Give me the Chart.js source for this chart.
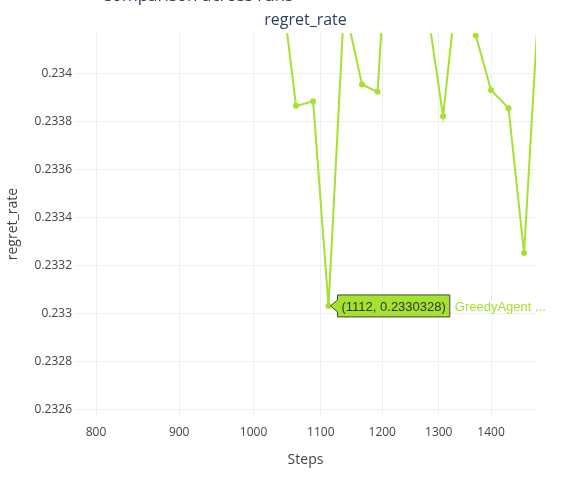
<!DOCTYPE html>
<html>
<head>
<meta charset="utf-8">
<script src="https://cdn.jsdelivr.net/npm/chart.js@4"></script>
<style>
  body { margin: 0; background: #fff; overflow: hidden; }
  #wrap { position: relative; width: 581px; height: 481px; }
  #topTitle {
    position: absolute; left: 101px; top: -15px;
    font: 17px "Open Sans", verdana, arial, sans-serif; line-height: 20px;
    color: #2a3f5f; white-space: nowrap;
  }
</style>
</head>
<body>
<div id="wrap">
  <canvas id="js-regretChart" width="581" height="481"></canvas>
  <div id="topTitle">Comparison across runs</div>
</div>
<script>
const steps = [787, 812, 838, 863, 888, 913, 938, 963, 988, 1012, 1037, 1062, 1088, 1112, 1137, 1166, 1192, 1220, 1249, 1279, 1308, 1338, 1370, 1400, 1435, 1467, 1500];
const regretRate = [0.2402, 0.2388, 0.2379, 0.2371, 0.2366, 0.2359, 0.2355, 0.2351, 0.2348, 0.2347, 0.23444, 0.2338653, 0.2338848, 0.2330328, 0.2342911, 0.2339543, 0.2339235, 0.2350146, 0.2347, 0.2342711, 0.2338224, 0.23444, 0.234158, 0.2339306, 0.2338557, 0.2332528, 0.234375];
const xTicks = [800, 900, 1000, 1100, 1200, 1300, 1400];
const yTicks = [0.2326, 0.2328, 0.233, 0.2332, 0.2334, 0.2336, 0.2338, 0.234];
const yTickLabels = ["0.2326", "0.2328", "0.233", "0.2332", "0.2334", "0.2336", "0.2338", "0.234"];
const hoverIndex = 13;
const runName = "GreedyAgent ...";

const lineColor = "#a5e12f";
const gridColor = "#ebf0f8";
const textColor = "#2a3f5f";
const axisColor = "#444";
const fontFamily = "'Open Sans', verdana, arial, sans-serif";

var points = [];
for (var i = 0; i < steps.length; i++) {
    points.push({x: steps[i], y: regretRate[i]});
}

const hoverLabel = {
    id: "hoverLabel",
    afterDatasetsDraw(chart) {
        const ctx = chart.ctx;
        const px = chart.scales.x.getPixelForValue(steps[hoverIndex]);
        const py = chart.scales.y.getPixelForValue(regretRate[hoverIndex]);
        const text = "(" + steps[hoverIndex] + ", " + regretRate[hoverIndex] + ")";
        ctx.save();
        ctx.font = "13px Arial, 'Liberation Sans', sans-serif";
        const w = ctx.measureText(text).width + 8;
        const tip = px + 2;
        const left = tip + 7;
        const top = py - 11;
        const bottom = py + 11;
        ctx.beginPath();
        ctx.moveTo(tip, py);
        ctx.lineTo(left, py - 6);
        ctx.lineTo(left, top);
        ctx.lineTo(left + w, top);
        ctx.lineTo(left + w, bottom);
        ctx.lineTo(left, bottom);
        ctx.lineTo(left, py + 6);
        ctx.closePath();
        ctx.fillStyle = lineColor;
        ctx.fill();
        ctx.lineWidth = 1;
        ctx.strokeStyle = "#444";
        ctx.stroke();
        ctx.fillStyle = "#333";
        ctx.textBaseline = "middle";
        ctx.fillText(text, left + 4, py + 1);
        ctx.fillStyle = lineColor;
        ctx.fillText(runName, left + w + 5, py + 1);
        ctx.restore();
    }
};

const ctx = document.getElementById("js-regretChart");
const regretChart = new Chart(ctx, {
    type: "line",
    data: {
        datasets: [{
            label: runName,
            data: points,
            borderColor: lineColor,
            backgroundColor: lineColor,
            borderWidth: 2,
            pointRadius: 3,
            pointBorderWidth: 0,
            pointBackgroundColor: lineColor,
            tension: 0
        }]
    },
    options: {
        responsive: false,
        animation: false,
        events: [],
        layout: {
            padding: {left: 0, right: 45, top: 0, bottom: 0}
        },
        plugins: {
            legend: {display: false},
            tooltip: {enabled: false},
            title: {
                display: true,
                text: "regret_rate",
                fullSize: false,
                color: textColor,
                font: {family: fontFamily, size: 16, weight: "normal"},
                padding: {top: 11, bottom: 3}
            }
        },
        scales: {
            x: {
                type: "logarithmic",
                min: 776.5,
                max: 1492,
                afterBuildTicks: (scale) => {
                    scale.ticks = xTicks.map((v) => ({value: v}));
                },
                afterFit: (scale) => {
                    scale.height = 66;
                },
                grid: {color: gridColor, drawTicks: false},
                border: {display: false},
                ticks: {
                    color: axisColor,
                    font: {family: fontFamily, size: 12},
                    padding: 10,
                    autoSkip: false,
                    maxRotation: 0,
                    callback: function(value) {
                        return String(value);
                    }
                },
                title: {
                    display: true,
                    text: "Steps",
                    color: axisColor,
                    font: {family: fontFamily, size: 14},
                    padding: {top: 0, bottom: 13}
                }
            },
            y: {
                type: "linear",
                min: 0.232579,
                max: 0.2341676,
                afterBuildTicks: (scale) => {
                    scale.ticks = yTicks.map((v) => ({value: v}));
                },
                afterFit: (scale) => {
                    scale.width = 75;
                },
                grid: {color: gridColor, drawTicks: false},
                border: {display: false},
                ticks: {
                    color: axisColor,
                    font: {family: fontFamily, size: 12},
                    padding: 3,
                    callback: function(value, index) {
                        return yTickLabels[index];
                    }
                },
                title: {
                    display: true,
                    text: "regret_rate",
                    color: axisColor,
                    font: {family: fontFamily, size: 14},
                    padding: {top: 5, bottom: 0}
                }
            }
        }
    },
    plugins: [hoverLabel]
});
</script>
</body>
</html>
